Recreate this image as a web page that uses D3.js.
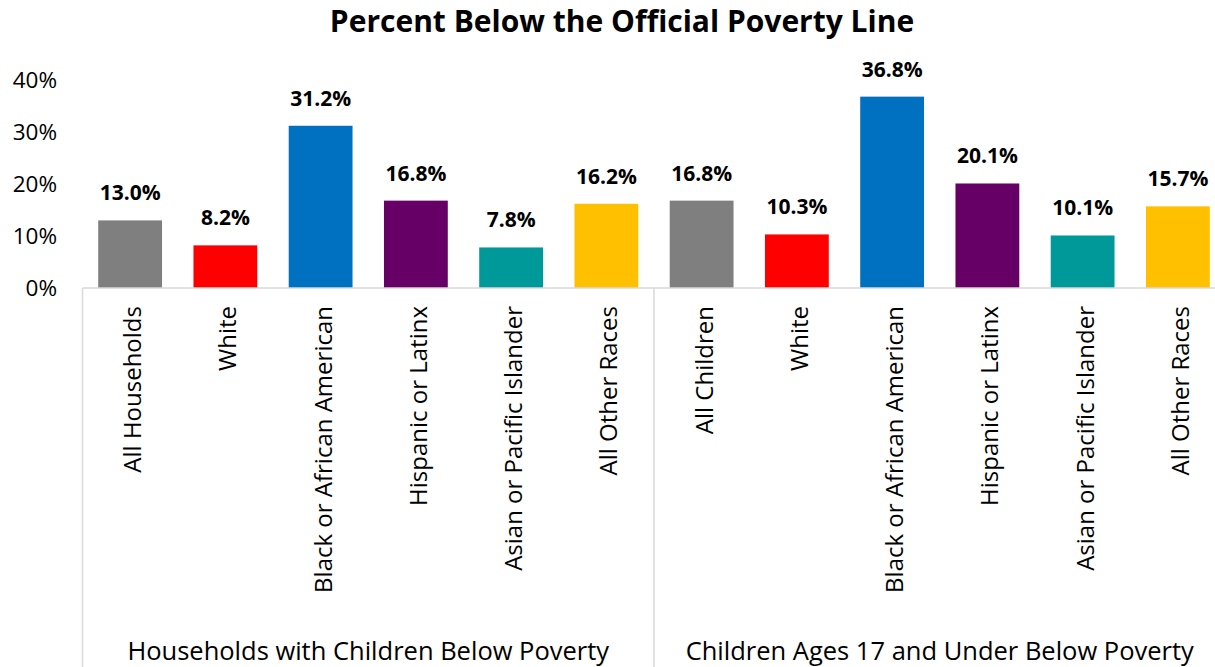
<!DOCTYPE html>
<html>
<head>
<meta charset="utf-8">
<script src="https://cdn.jsdelivr.net/npm/d3@7"></script>
<style>
  body { margin: 0; background: #fff; }
  svg text { font-family: "Open Sans", sans-serif; fill: #000; }
</style>
</head>
<body>
<svg id="chart"></svg>
<script>
const groups = ['Households with Children Below Poverty', 'Children Ages 17 and Under Below Poverty'];
const categories = [
    ['All Households', 'White', 'Black or African American', 'Hispanic or Latinx', 'Asian or Pacific Islander', 'All Other Races'],
    ['All Children', 'White', 'Black or African American', 'Hispanic or Latinx', 'Asian or Pacific Islander', 'All Other Races']
];
const values = [
    [13.0, 8.2, 31.2, 16.8, 7.8, 16.2],
    [16.8, 10.3, 36.8, 20.1, 10.1, 15.7]
];
const colors = ['#7f7f7f', '#ff0000', '#0070c0', '#660066', '#009999', '#ffc000'];
const yTicks = [0, 10, 20, 30, 40];

const width = 1215;
const height = 667;

const svg = d3.select('svg#chart')
    .attr('width', width)
    .attr('height', height);

const left = 82.5;
const groupWidth = 571.5;
const rows = [];
groups.forEach((g, gi) => {
    categories[gi].forEach((c, ci) => {
        rows.push({ key: gi + '-' + ci, group: gi, cat: c, value: values[gi][ci], color: colors[ci] });
    });
});

const x = d3.scaleBand()
    .domain(rows.map(r => r.key))
    .range([left, left + groupWidth * 2])
    .paddingInner(0.33)
    .paddingOuter(0.165);

const y = d3.scaleLinear()
    .domain([0, 40])
    .range([288, 80]);

svg.append('text')
    .attr('x', 622)
    .attr('y', 32)
    .attr('text-anchor', 'middle')
    .style('font-size', '30px')
    .style('font-weight', 'bold')
    .text('Percent Below the Official Poverty Line');

// y axis labels
svg.append('g')
    .selectAll('text')
    .data(yTicks)
    .join('text')
    .attr('x', 57)
    .attr('y', d => y(d))
    .attr('dy', '0.35em')
    .attr('text-anchor', 'end')
    .style('font-size', '22.5px')
    .text(d => d + '%');

// bars
svg.append('g')
    .selectAll('rect')
    .data(rows)
    .join('rect')
    .attr('x', d => x(d.key))
    .attr('width', x.bandwidth())
    .attr('y', d => y(d.value))
    .attr('height', d => y(0) - y(d.value))
    .attr('fill', d => d.color);

// value labels
svg.append('g')
    .selectAll('text')
    .data(rows)
    .join('text')
    .attr('x', d => x(d.key) + x.bandwidth() / 2)
    .attr('y', d => y(d.value) - 20)
    .attr('text-anchor', 'middle')
    .style('font-size', '21px')
    .style('font-weight', 'bold')
    .text(d => d.value.toFixed(1) + '%');

// axis lines
const lineColor = '#d9d9d9';
svg.append('line')
    .attr('x1', left).attr('x2', width)
    .attr('y1', y(0)).attr('y2', y(0))
    .attr('stroke', lineColor).attr('stroke-width', 1.5);

[0, 1, 2].forEach(i => {
    svg.append('line')
        .attr('x1', left + i * groupWidth).attr('x2', left + i * groupWidth)
        .attr('y1', y(0)).attr('y2', height)
        .attr('stroke', lineColor).attr('stroke-width', 1.5);
});

// category labels
svg.append('g')
    .selectAll('text')
    .data(rows)
    .join('text')
    .attr('transform', d => `translate(${x(d.key) + x.bandwidth() / 2 + 11},306) rotate(-90)`)
    .attr('text-anchor', 'end')
    .style('font-size', '24px')
    .text(d => d.cat);

// group labels
svg.append('g')
    .selectAll('text')
    .data(groups)
    .join('text')
    .attr('x', (d, i) => left + groupWidth * i + groupWidth / 2)
    .attr('y', 660)
    .attr('text-anchor', 'middle')
    .style('font-size', '25.5px')
    .text(d => d);
</script>
</body>
</html>
